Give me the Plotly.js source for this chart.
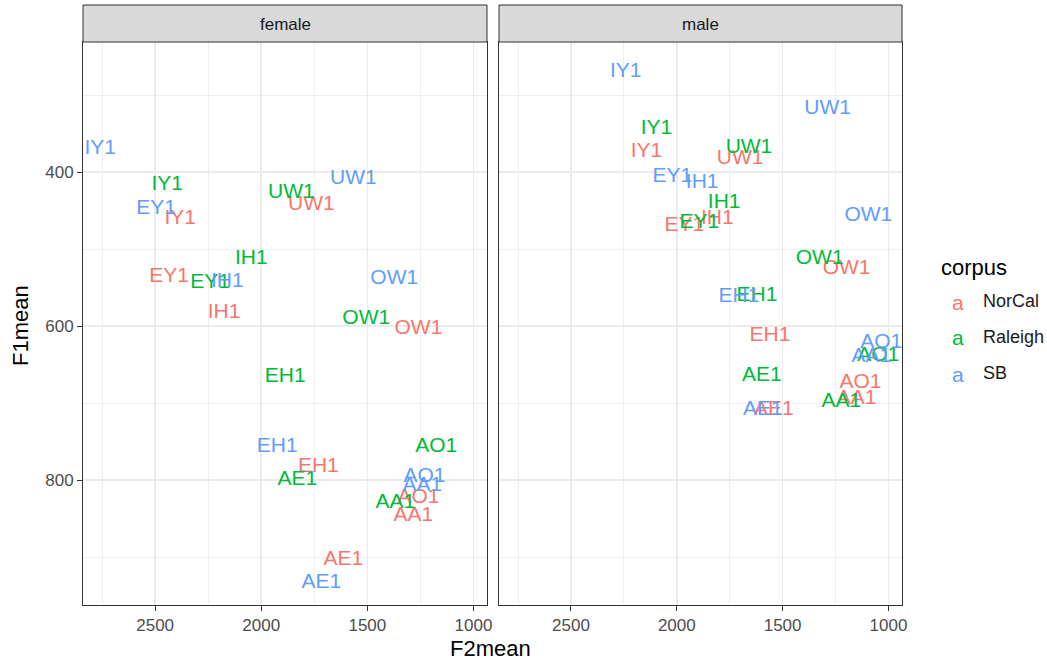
<!DOCTYPE html>
<html>
<head>
<meta charset="utf-8">
<script src="https://cdn.plot.ly/plotly-3.0.1.min.js"></script>
<style>html,body{margin:0;padding:0;background:#fff;}#chart{width:1047px;height:662px;}</style>
</head>
<body>
<div id="chart"></div>
<script>
// ---- data ----
const vowels = ["IY1","EY1","IH1","EH1","AE1","AA1","AO1","OW1","UW1"];
const corpora = ["NorCal","Raleigh","SB"];
const genders = ["female","male"];

const femaleNorCalF2 = [2382,2434,2175,1731,1613,1283,1259,1259,1764];
const femaleNorCalF1 = [461,536,583,783,903,846,823,603,442];
const femaleRaleighF2 = [2443,2241,2047,1887,1830,1368,1175,1505,1858];
const femaleRaleighF1 = [416,544,513,666,800,829,757,590,427];
const femaleSBF2 = [2759,2495,2160,1925,1717,1241,1231,1373,1566];
const femaleSBF1 = [370,447,542,756,933,807,795,539,408];

const maleNorCalF2 = [2143,1964,1809,1560,1541,1151,1132,1198,1701];
const maleNorCalF1 = [374,470,460,613,708,694,673,525,382];
const maleRaleighF2 = [2096,1894,1776,1621,1598,1222,1048,1325,1659];
const maleRaleighF1 = [344,466,440,561,664,698,638,512,368];
const maleSBF2 = [2241,2021,1880,1706,1593,1081,1034,1095,1287];
const maleSBF1 = [269,406,414,562,709,640,622,456,318];

const xTicks = [2500,2000,1500,1000];
const yTicks = [400,600,800];

// ---- styles ----
const colors = {NorCal:"#F8766D", Raleigh:"#00BA38", SB:"#619CFF"};
const FONT = "Liberation Sans, Arial, Helvetica, sans-serif";
const W = 1047, H = 662;
const M = {l:83, r:145, t:42, b:57};
const PW = W - M.l - M.r, PH = H - M.t - M.b;
const px2x = p => (p - M.l) / PW;
const px2y = p => (H - M.b - p) / PH;

const series = {
  female: {NorCal:[femaleNorCalF2,femaleNorCalF1], Raleigh:[femaleRaleighF2,femaleRaleighF1], SB:[femaleSBF2,femaleSBF1]},
  male:   {NorCal:[maleNorCalF2,maleNorCalF1],     Raleigh:[maleRaleighF2,maleRaleighF1],     SB:[maleSBF2,maleSBF1]}
};

const traces = [];
genders.forEach((g, gi) => {
  corpora.forEach(c => {
    const [f2, f1] = series[g][c];
    traces.push({
      type: "scatter", mode: "text",
      x: f2, y: f1, text: vowels,
      xaxis: gi === 0 ? "x" : "x2", yaxis: gi === 0 ? "y" : "y2",
      textposition: "middle center",
      textfont: {family: FONT, size: 21, color: colors[c]},
      cliponaxis: true, showlegend: false, hoverinfo: "skip", name: c
    });
  });
});

const xRange = [2840, 936];
const yRange = [962, 231];
const gridCol = "#ebebeb";
function xaxis(domain, anchor) {
  return {
    domain: domain, anchor: anchor, range: xRange,
    tickvals: xTicks, ticktext: xTicks.map(String),
    ticks: "outside", ticklen: 5, tickwidth: 1, tickcolor: "#333333",
    tickfont: {family: FONT, size: 17, color: "#4d4d4d"},
    showgrid: true, gridcolor: gridCol, gridwidth: 1.6,
    minor: {dtick: 250, tick0: 1000, showgrid: true, gridcolor: gridCol, gridwidth: 0.8, ticks: ""},
    showline: true, mirror: true, linecolor: "#333333", linewidth: 1,
    zeroline: false, fixedrange: true
  };
}
function yaxis(anchor, showLabels) {
  return {
    domain: [0, 1], anchor: anchor, range: yRange,
    tickvals: yTicks, ticktext: yTicks.map(String),
    showticklabels: showLabels,
    ticks: showLabels ? "outside" : "", ticklen: 5, tickwidth: 1, tickcolor: "#333333",
    tickfont: {family: FONT, size: 17, color: "#4d4d4d"},
    showgrid: true, gridcolor: gridCol, gridwidth: 1.6,
    minor: {dtick: 100, tick0: 300, showgrid: true, gridcolor: gridCol, gridwidth: 0.8, ticks: ""},
    showline: true, mirror: true, linecolor: "#333333", linewidth: 1,
    zeroline: false, fixedrange: true
  };
}

const d1 = [0, px2x(487)], d2 = [px2x(499), 1];
const stripTop = px2y(5);

const shapes = [];
const annotations = [];
[d1, d2].forEach((d, i) => {
  shapes.push({type: "rect", xref: "paper", yref: "paper", x0: d[0], x1: d[1], y0: 1, y1: stripTop,
    fillcolor: "#d9d9d9", line: {color: "#333333", width: 1}, layer: "above"});
  annotations.push({xref: "paper", yref: "paper", x: (d[0]+d[1])/2, y: px2y(25),
    text: genders[i], showarrow: false, xanchor: "center", yanchor: "middle",
    font: {family: FONT, size: 17, color: "#1a1a1a"}});
});

// axis titles
annotations.push({xref: "paper", yref: "paper", x: px2x(490), y: px2y(648), text: "F2mean",
  showarrow: false, xanchor: "center", yanchor: "middle", font: {family: FONT, size: 22, color: "#000"}});
annotations.push({xref: "paper", yref: "paper", x: px2x(20), y: px2y(326), text: "F1mean", textangle: -90,
  showarrow: false, xanchor: "center", yanchor: "middle", font: {family: FONT, size: 22, color: "#000"}});

// legend
annotations.push({xref: "paper", yref: "paper", x: px2x(939), y: px2y(267), text: "corpus",
  showarrow: false, xanchor: "left", yanchor: "middle", font: {family: FONT, size: 22, color: "#000"}});
const legendY = [302, 338, 374];
corpora.forEach((c, i) => {
  annotations.push({xref: "paper", yref: "paper", x: px2x(958), y: px2y(legendY[i]), text: "a",
    showarrow: false, xanchor: "center", yanchor: "middle", font: {family: FONT, size: 21, color: colors[c]}});
  annotations.push({xref: "paper", yref: "paper", x: px2x(981), y: px2y(legendY[i]-1), text: c,
    showarrow: false, xanchor: "left", yanchor: "middle", font: {family: FONT, size: 18, color: "#1a1a1a"}});
});

const layout = {
  width: W, height: H, margin: M,
  paper_bgcolor: "#ffffff", plot_bgcolor: "#ffffff",
  showlegend: false,
  xaxis: xaxis(d1, "y"), yaxis: yaxis("x", true),
  xaxis2: xaxis(d2, "y2"), yaxis2: Object.assign(yaxis("x2", false), {matches: "y"}),
  shapes: shapes, annotations: annotations
};

Plotly.newPlot("chart", traces, layout, {staticPlot: true, displayModeBar: false});
</script>
</body>
</html>
